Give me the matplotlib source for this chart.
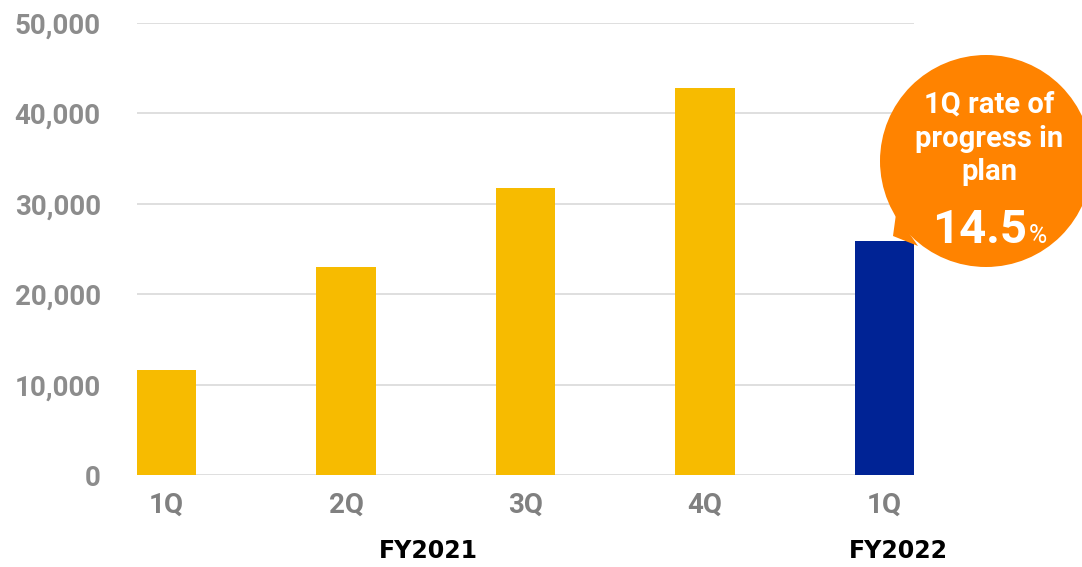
import matplotlib
matplotlib.use("Agg")
import matplotlib.pyplot as plt
from matplotlib.patches import Circle, Polygon
from matplotlib.ticker import FuncFormatter

# quarterly values
quarters = ["1Q", "2Q", "3Q", "4Q", "1Q"]
values = [11600, 23000, 31750, 42800, 25900]
bar_colors = ["#f7bb00", "#f7bb00", "#f7bb00", "#f7bb00", "#002395"]
years = ["FY2021", "FY2022"]
progress_rate = 14.5

fig = plt.figure(figsize=(10.82, 5.67), dpi=100)
ax = fig.add_axes([0.1266, 0.1617, 0.7181, 0.7983])

x = range(len(values))
width = 0.33
ax.bar(x, values, width=width, color=bar_colors, zorder=3)
ax.set_xlim(-width / 2, len(values) - 1 + width / 2)
ax.set_ylim(0, 50000)
ax.set_yticks(range(0, 50001, 10000))
ax.yaxis.set_major_formatter(FuncFormatter(lambda v, p: f"{int(v):,}"))
ax.set_xticks(list(x))
ax.set_xticklabels(quarters)
ax.grid(axis="y", color="#d9d9d9", linewidth=1.2, zorder=0)
for s in ax.spines.values():
    s.set_visible(False)
ax.tick_params(length=0)
ax.tick_params(axis="y", pad=26, labelcolor="#8c8c8c")
ax.tick_params(axis="x", pad=12, labelcolor="#808080")
for lab in ax.get_xticklabels() + ax.get_yticklabels():
    lab.set_fontfamily("Roboto")
    lab.set_fontweight("bold")
    lab.set_fontsize(20)

# fiscal year labels under the quarters
ax.text(1.458, -0.168, years[0], transform=ax.get_xaxis_transform(),
        ha="center", va="center", fontsize=17, fontweight="bold", color="black")
ax.text(4.08, -0.168, years[1], transform=ax.get_xaxis_transform(),
        ha="center", va="center", fontsize=17, fontweight="bold", color="black")

# callout bubble in pixel space
ov = fig.add_axes([0, 0, 1, 1], zorder=5)
ov.set_xlim(0, 1082)
ov.set_ylim(567, 0)
ov.axis("off")
orange = "#ff8300"
ov.add_patch(Circle((986, 161), 106, color=orange, lw=0))
ov.add_patch(Polygon([(893, 236), (896, 214), (918, 246)], closed=True,
                     color=orange, lw=0))
bubble_font = dict(ha="center", va="baseline", color="white",
                   fontsize=21, fontweight="bold", family="Roboto")
ov.text(989, 113, "1Q rate of", **bubble_font)
ov.text(989, 147, "progress in", **bubble_font)
ov.text(989, 180, "plan", **bubble_font)
ov.text(1027, 243, f"{progress_rate}", ha="right", va="baseline", color="white",
        fontsize=34, fontweight="bold", family="Roboto")
ov.text(1029, 243, "%", ha="left", va="baseline", color="white",
        fontsize=18, family="Roboto")

fig.savefig("out.png", dpi=100)
